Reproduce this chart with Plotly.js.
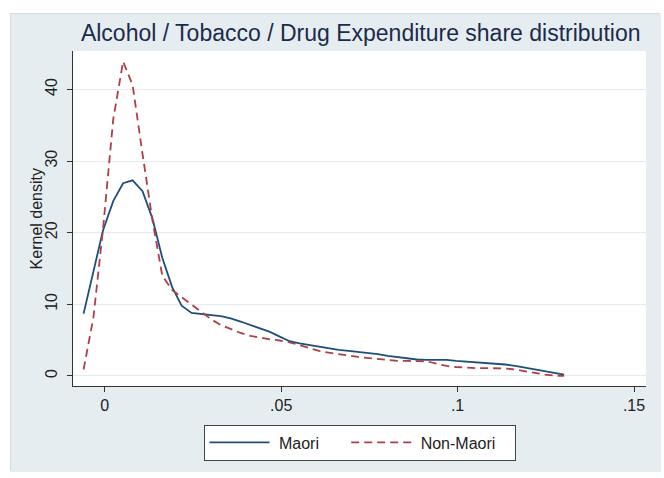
<!DOCTYPE html>
<html>
<head>
<meta charset="utf-8">
<script src="https://cdn.plot.ly/plotly-3.0.1.min.js"></script>
<style>
html, body { margin: 0; padding: 0; background: #ffffff; width: 664px; height: 478px; overflow: hidden; }
#chart { position: absolute; left: 10px; top: 13px; width: 650px; height: 458px; border: 1px solid #d3dce2; box-sizing: border-box; }
</style>
</head>
<body>
<div id="chart"></div>
<script>
// Expenditure share grid (x)
const shareX = [-0.0060, -0.0032, -0.0005, 0.0024, 0.0052, 0.0079, 0.0107, 0.0135, 0.0163, 0.0191,
  0.0218, 0.0246, 0.0274, 0.0302, 0.0329, 0.0357, 0.0385, 0.0413, 0.0441, 0.0468,
  0.0496, 0.0524, 0.0552, 0.0580, 0.0607, 0.0635, 0.0663, 0.0691, 0.0718, 0.0746,
  0.0774, 0.0802, 0.0830, 0.0857, 0.0885, 0.0913, 0.0941, 0.0969, 0.0996, 0.1024,
  0.1052, 0.1080, 0.1108, 0.1135, 0.1163, 0.1191, 0.1219, 0.1247, 0.1274, 0.1302];

// Kernel density, Maori
const maoriDensity = [8.7, 14.6, 20.3, 24.4, 26.9, 27.3, 25.8, 22.0, 16.5, 12.4,
  9.8, 8.8, 8.6, 8.5, 8.35, 8.05, 7.6, 7.1, 6.65, 6.15,
  5.5, 4.85, 4.55, 4.3, 4.1, 3.85, 3.65, 3.5, 3.35, 3.25,
  3.05, 2.8, 2.6, 2.45, 2.3, 2.25, 2.25, 2.25, 2.1, 2.0,
  1.9, 1.8, 1.7, 1.6, 1.4, 1.15, 0.9, 0.65, 0.4, 0.2];

// Kernel density, Non-Maori
const nonMaoriDensity = [0.9, 8.2, 20.5, 35.8, 43.9, 40.6, 31.0, 21.8, 14.0, 12.0,
  11.0, 10.0, 8.9, 7.9, 7.1, 6.5, 6.0, 5.6, 5.3, 5.1,
  4.95, 4.7, 4.3, 3.9, 3.5, 3.25, 3.0, 2.85, 2.65, 2.5,
  2.3, 2.15, 2.1, 2.1, 2.05, 2.05, 1.7, 1.4, 1.25, 1.15,
  1.1, 1.1, 1.1, 1.05, 0.9, 0.65, 0.4, 0.2, 0.05, 0.0];

const seriesNames = ["Maori", "Non-Maori"];
const xTickVals = [0, 0.05, 0.1, 0.15];
const xTickText = ["0", ".05", ".1", ".15"];
const yTickVals = [0, 10, 20, 30, 40];
const yTickText = ["0", "10", "20", "30", "40"];

const FONT = "Liberation Sans, Arial, Helvetica, sans-serif";
const NB = "\u00a0";

const traces = [
  { x: shareX, y: maoriDensity, name: NB + seriesNames[0] + NB.repeat(5), type: "scatter", mode: "lines",
    line: { color: "#1f4e7c", width: 1.8 } },
  { x: shareX, y: nonMaoriDensity, name: NB + seriesNames[1] + NB.repeat(3), type: "scatter", mode: "lines",
    line: { color: "#ad3f47", width: 1.8, dash: "8px,5px" } }
];

const layout = {
  width: 650, height: 458,
  margin: { l: 62, r: 15, t: 37, b: 83, pad: 0 },
  paper_bgcolor: "#e6edf1",
  plot_bgcolor: "#ffffff",
  font: { family: FONT, size: 16, color: "#222222" },
  title: { text: "Alcohol / Tobacco / Drug Expenditure share distribution",
    font: { family: FONT, size: 23, color: "#1b2b4b" },
    x: 0.538, xanchor: "center", y: 0.958, yanchor: "middle" },
  showlegend: true,
  legend: { orientation: "h", x: 0.5, xanchor: "center", y: -0.115, yanchor: "top",
    bgcolor: "#ffffff", bordercolor: "#444444", borderwidth: 1,
    font: { family: FONT, size: 16, color: "#222222" },
    itemwidth: 60, traceorder: "normal" },
  xaxis: {
    range: [-0.0090, 0.1534], tickvals: xTickVals, ticktext: xTickText,
    showgrid: false, zeroline: false,
    showline: true, linecolor: "#333333", linewidth: 1,
    ticks: "outside", ticklen: 5, tickcolor: "#333333",
    tickfont: { family: FONT, size: 16, color: "#222222" }
  },
  yaxis: {
    range: [-1.4, 45.36], tickvals: yTickVals, ticktext: yTickText, tickangle: -90,
    showgrid: true, gridcolor: "#e3ebf0", gridwidth: 1, zeroline: false,
    showline: true, linecolor: "#333333", linewidth: 1,
    ticks: "outside", ticklen: 5, tickcolor: "#333333", ticklabelstandoff: 4,
    tickfont: { family: FONT, size: 16, color: "#222222" }
  },
  annotations: [
    { text: "Kernel density", xref: "paper", yref: "paper", x: -0.063, y: 0.5,
      xanchor: "center", yanchor: "middle", textangle: -90, showarrow: false,
      font: { family: FONT, size: 16, color: "#222222" } }
  ]
};

Plotly.newPlot("chart", traces, layout, { staticPlot: true, displayModeBar: false });
</script>
</body>
</html>
